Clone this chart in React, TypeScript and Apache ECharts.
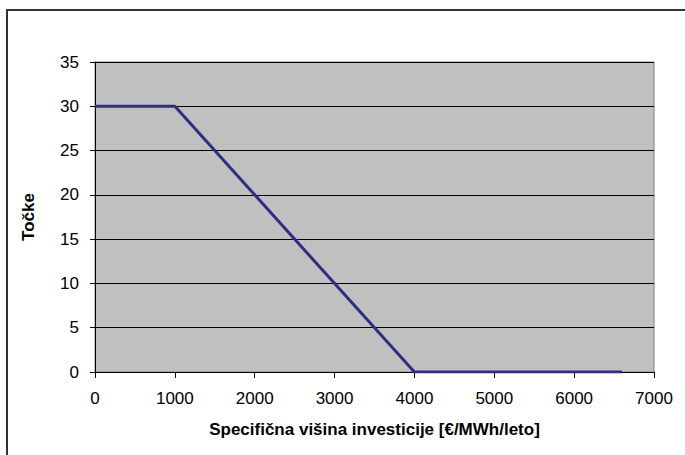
import React, { useEffect, useRef } from "react";
import * as echarts from "echarts";

const xValues = [0, 1000, 4000, 6600];
const yValues = [30, 30, 0, 0];
const xAxisTitle = "Specifična višina investicije [€/MWh/leto]";
const yAxisTitle = "Točke";

export default function App() {
  const ref = useRef<HTMLDivElement>(null);
  useEffect(() => {
    document.body.style.margin = "0";
    const chart = echarts.init(ref.current!, undefined, { renderer: "svg" });
    const font = "'Liberation Sans', Arial, sans-serif";
    chart.setOption({
      animation: false,
      textStyle: { fontFamily: font },
      graphic: [
        {
          type: "rect",
          shape: { x: 7, y: 10, width: 700, height: 500 },
          style: { fill: "none", stroke: "#333", lineWidth: 2 },
          silent: true,
        },
      ],
      grid: {
        left: 95,
        right: 31,
        top: 62,
        bottom: 83,
        show: true,
        backgroundColor: "#C0C0C0",
        borderColor: "#808080",
        borderWidth: 1,
      },
      xAxis: {
        type: "value",
        min: 0,
        max: 7000,
        interval: 1000,
        name: xAxisTitle,
        nameLocation: "middle",
        nameGap: 49,
        nameTextStyle: { fontWeight: "bold", fontSize: 17, color: "#000", fontFamily: font },
        axisLine: { show: true, lineStyle: { color: "#000", width: 1 } },
        axisTick: { show: true, length: 6, lineStyle: { color: "#000" } },
        axisLabel: { color: "#000", fontSize: 17, margin: 18, fontFamily: font, formatter: (v: number) => String(v) },
        splitLine: { show: false },
      },
      yAxis: {
        type: "value",
        min: 0,
        max: 35,
        interval: 5,
        name: yAxisTitle,
        nameLocation: "middle",
        nameGap: 58,
        nameTextStyle: { fontWeight: "bold", fontSize: 17, color: "#000", fontFamily: font },
        axisLine: { show: true, lineStyle: { color: "#000", width: 1 } },
        axisTick: { show: true, length: 5, lineStyle: { color: "#000" } },
        axisLabel: { color: "#000", fontSize: 17, margin: 16, fontFamily: font, formatter: (v: number) => String(v) },
        splitLine: { show: true, lineStyle: { color: "#000", width: 1 } },
      },
      series: [
        {
          type: "line",
          data: xValues.map((x, i) => [x, yValues[i]]),
          symbol: "none",
          lineStyle: { color: "#2E2E85", width: 3 },
        },
      ],
    });
    return () => chart.dispose();
  }, []);
  return <div ref={ref} style={{ width: 685, height: 455 }} />;
}
